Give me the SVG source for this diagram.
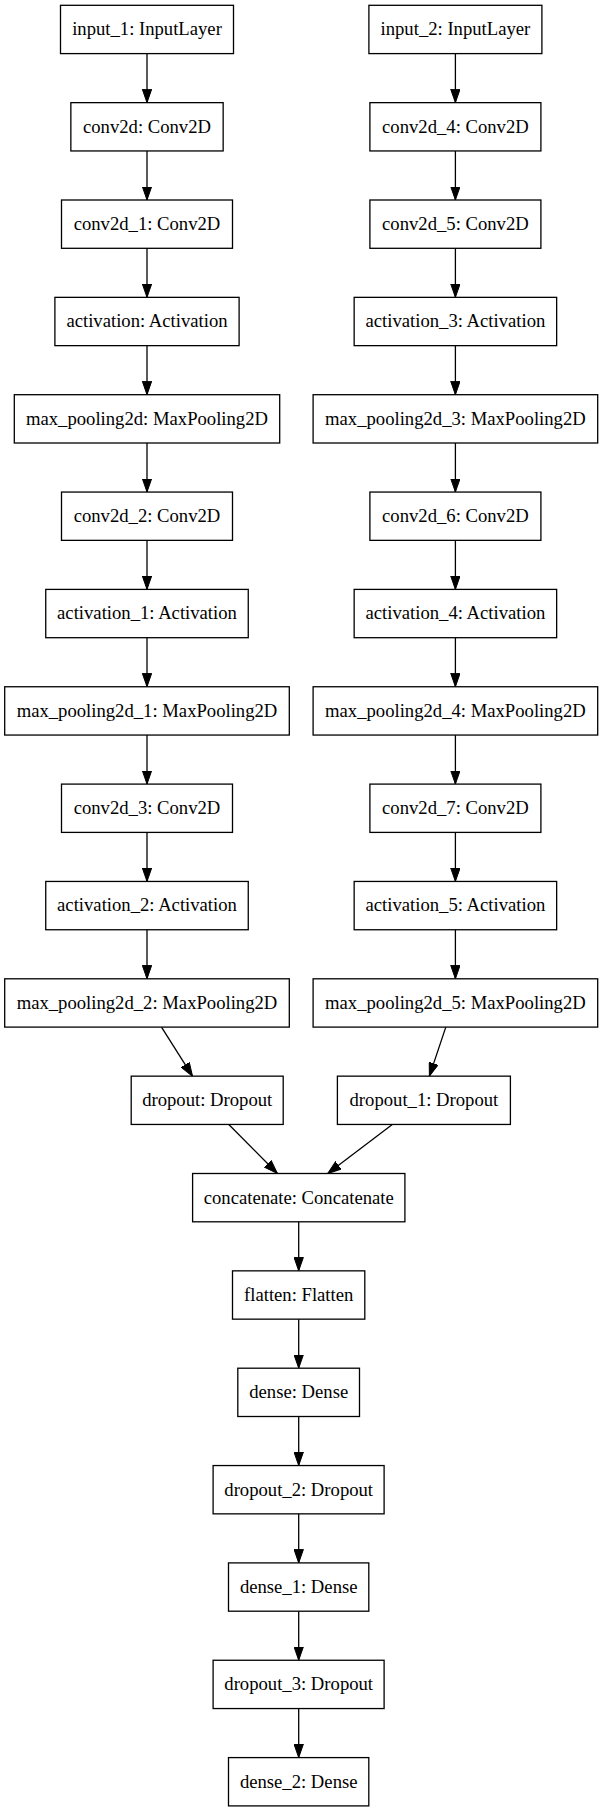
<svg xmlns="http://www.w3.org/2000/svg" width="600" height="1812" viewBox="0 0 600 1812">
<style>
  .box { fill: #fff; stroke: #000; stroke-width: 1.3; }
  .lbl { font-family: "Liberation Serif", "Times New Roman", serif; font-size: 18.67px; fill: #000; text-anchor: middle; }
  .edge { fill: none; stroke: #000; stroke-width: 1.3; marker-end: url(#arr); }
</style>
<defs>
  <marker id="arr" viewBox="0 0 14 10" refX="13.5" refY="5" markerWidth="14" markerHeight="10" markerUnits="userSpaceOnUse" orient="auto">
    <path d="M0,0.3 L13.5,5 L0,9.7 z" fill="#000" stroke="#000" stroke-width="1"/>
  </marker>
</defs>
<rect width="600" height="1812" fill="#fff"/>

<g id="connectors">
  <!-- left column -->
  <line class="edge" x1="147" y1="53.6" x2="147" y2="102.65"/>
  <line class="edge" x1="147" y1="150.95" x2="147" y2="200"/>
  <line class="edge" x1="147" y1="248.3" x2="147" y2="297.35"/>
  <line class="edge" x1="147" y1="345.65" x2="147" y2="394.7"/>
  <line class="edge" x1="147" y1="443" x2="147" y2="492.05"/>
  <line class="edge" x1="147" y1="540.35" x2="147" y2="589.4"/>
  <line class="edge" x1="147" y1="637.7" x2="147" y2="686.75"/>
  <line class="edge" x1="147" y1="735.05" x2="147" y2="784.1"/>
  <line class="edge" x1="147" y1="832.4" x2="147" y2="881.45"/>
  <line class="edge" x1="147" y1="929.75" x2="147" y2="978.8"/>
  <!-- right column -->
  <line class="edge" x1="455.4" y1="53.6" x2="455.4" y2="102.65"/>
  <line class="edge" x1="455.4" y1="150.95" x2="455.4" y2="200"/>
  <line class="edge" x1="455.4" y1="248.3" x2="455.4" y2="297.35"/>
  <line class="edge" x1="455.4" y1="345.65" x2="455.4" y2="394.7"/>
  <line class="edge" x1="455.4" y1="443" x2="455.4" y2="492.05"/>
  <line class="edge" x1="455.4" y1="540.35" x2="455.4" y2="589.4"/>
  <line class="edge" x1="455.4" y1="637.7" x2="455.4" y2="686.75"/>
  <line class="edge" x1="455.4" y1="735.05" x2="455.4" y2="784.1"/>
  <line class="edge" x1="455.4" y1="832.4" x2="455.4" y2="881.45"/>
  <line class="edge" x1="455.4" y1="929.75" x2="455.4" y2="978.8"/>
  <!-- merge -->
  <line class="edge" x1="161.5" y1="1027.1" x2="192.5" y2="1076.15"/>
  <line class="edge" x1="445.8" y1="1027.1" x2="429.4" y2="1076.15"/>
  <line class="edge" x1="228.8" y1="1124.45" x2="277.4" y2="1173.5"/>
  <line class="edge" x1="392.3" y1="1124.45" x2="327.7" y2="1173.5"/>
  <!-- center column -->
  <line class="edge" x1="298.7" y1="1221.8" x2="298.7" y2="1270.85"/>
  <line class="edge" x1="298.7" y1="1319.15" x2="298.7" y2="1368.2"/>
  <line class="edge" x1="298.7" y1="1416.5" x2="298.7" y2="1465.55"/>
  <line class="edge" x1="298.7" y1="1513.85" x2="298.7" y2="1562.9"/>
  <line class="edge" x1="298.7" y1="1611.2" x2="298.7" y2="1660.25"/>
  <line class="edge" x1="298.7" y1="1708.55" x2="298.7" y2="1757.6"/>
</g>

<!-- left column -->
<g id="input_1"><rect class="box" x="60.5" y="5.3" width="173" height="48.3"/><text class="lbl" x="147" y="35.3">input_1: InputLayer</text></g>
<g id="conv2d"><rect class="box" x="70.85" y="102.65" width="152.3" height="48.3"/><text class="lbl" x="147" y="132.65">conv2d: Conv2D</text></g>
<g id="conv2d_1"><rect class="box" x="61.5" y="200" width="171" height="48.3"/><text class="lbl" x="147" y="230">conv2d_1: Conv2D</text></g>
<g id="activation"><rect class="box" x="54.9" y="297.35" width="184.2" height="48.3"/><text class="lbl" x="147" y="327.35">activation: Activation</text></g>
<g id="max_pooling2d"><rect class="box" x="14.3" y="394.7" width="265.4" height="48.3"/><text class="lbl" x="147" y="424.7">max_pooling2d: MaxPooling2D</text></g>
<g id="conv2d_2"><rect class="box" x="61.5" y="492.05" width="171" height="48.3"/><text class="lbl" x="147" y="522.05">conv2d_2: Conv2D</text></g>
<g id="activation_1"><rect class="box" x="45.75" y="589.4" width="202.5" height="48.3"/><text class="lbl" x="147" y="619.4">activation_1: Activation</text></g>
<g id="max_pooling2d_1"><rect class="box" x="4.7" y="686.75" width="284.6" height="48.3"/><text class="lbl" x="147" y="716.75">max_pooling2d_1: MaxPooling2D</text></g>
<g id="conv2d_3"><rect class="box" x="61.5" y="784.1" width="171" height="48.3"/><text class="lbl" x="147" y="814.1">conv2d_3: Conv2D</text></g>
<g id="activation_2"><rect class="box" x="45.75" y="881.45" width="202.5" height="48.3"/><text class="lbl" x="147" y="911.45">activation_2: Activation</text></g>
<g id="max_pooling2d_2"><rect class="box" x="4.7" y="978.8" width="284.6" height="48.3"/><text class="lbl" x="147" y="1008.8">max_pooling2d_2: MaxPooling2D</text></g>

<!-- right column -->
<g id="input_2"><rect class="box" x="368.9" y="5.3" width="173" height="48.3"/><text class="lbl" x="455.4" y="35.3">input_2: InputLayer</text></g>
<g id="conv2d_4"><rect class="box" x="369.9" y="102.65" width="171" height="48.3"/><text class="lbl" x="455.4" y="132.65">conv2d_4: Conv2D</text></g>
<g id="conv2d_5"><rect class="box" x="369.9" y="200" width="171" height="48.3"/><text class="lbl" x="455.4" y="230">conv2d_5: Conv2D</text></g>
<g id="activation_3"><rect class="box" x="354.15" y="297.35" width="202.5" height="48.3"/><text class="lbl" x="455.4" y="327.35">activation_3: Activation</text></g>
<g id="max_pooling2d_3"><rect class="box" x="313.1" y="394.7" width="284.6" height="48.3"/><text class="lbl" x="455.4" y="424.7">max_pooling2d_3: MaxPooling2D</text></g>
<g id="conv2d_6"><rect class="box" x="369.9" y="492.05" width="171" height="48.3"/><text class="lbl" x="455.4" y="522.05">conv2d_6: Conv2D</text></g>
<g id="activation_4"><rect class="box" x="354.15" y="589.4" width="202.5" height="48.3"/><text class="lbl" x="455.4" y="619.4">activation_4: Activation</text></g>
<g id="max_pooling2d_4"><rect class="box" x="313.1" y="686.75" width="284.6" height="48.3"/><text class="lbl" x="455.4" y="716.75">max_pooling2d_4: MaxPooling2D</text></g>
<g id="conv2d_7"><rect class="box" x="369.9" y="784.1" width="171" height="48.3"/><text class="lbl" x="455.4" y="814.1">conv2d_7: Conv2D</text></g>
<g id="activation_5"><rect class="box" x="354.15" y="881.45" width="202.5" height="48.3"/><text class="lbl" x="455.4" y="911.45">activation_5: Activation</text></g>
<g id="max_pooling2d_5"><rect class="box" x="313.1" y="978.8" width="284.6" height="48.3"/><text class="lbl" x="455.4" y="1008.8">max_pooling2d_5: MaxPooling2D</text></g>

<!-- merge -->
<g id="dropout"><rect class="box" x="131.2" y="1076.15" width="152" height="48.3"/><text class="lbl" x="207.2" y="1106.15">dropout: Dropout</text></g>
<g id="dropout_1"><rect class="box" x="337.4" y="1076.15" width="173" height="48.3"/><text class="lbl" x="423.9" y="1106.15">dropout_1: Dropout</text></g>
<g id="concatenate"><rect class="box" x="192.6" y="1173.5" width="212.3" height="48.3"/><text class="lbl" x="298.75" y="1203.5">concatenate: Concatenate</text></g>

<!-- center column -->
<g id="flatten"><rect class="box" x="232.5" y="1270.85" width="132.3" height="48.3"/><text class="lbl" x="298.7" y="1300.85">flatten: Flatten</text></g>
<g id="dense"><rect class="box" x="237.8" y="1368.2" width="121.7" height="48.3"/><text class="lbl" x="298.7" y="1398.2">dense: Dense</text></g>
<g id="dropout_2"><rect class="box" x="213.1" y="1465.55" width="171" height="48.3"/><text class="lbl" x="298.7" y="1495.55">dropout_2: Dropout</text></g>
<g id="dense_1"><rect class="box" x="228.5" y="1562.9" width="140.3" height="48.3"/><text class="lbl" x="298.7" y="1592.9">dense_1: Dense</text></g>
<g id="dropout_3"><rect class="box" x="213.1" y="1660.25" width="171" height="48.3"/><text class="lbl" x="298.7" y="1690.25">dropout_3: Dropout</text></g>
<g id="dense_2"><rect class="box" x="228.5" y="1757.6" width="140.3" height="48.3"/><text class="lbl" x="298.7" y="1787.6">dense_2: Dense</text></g>
</svg>
